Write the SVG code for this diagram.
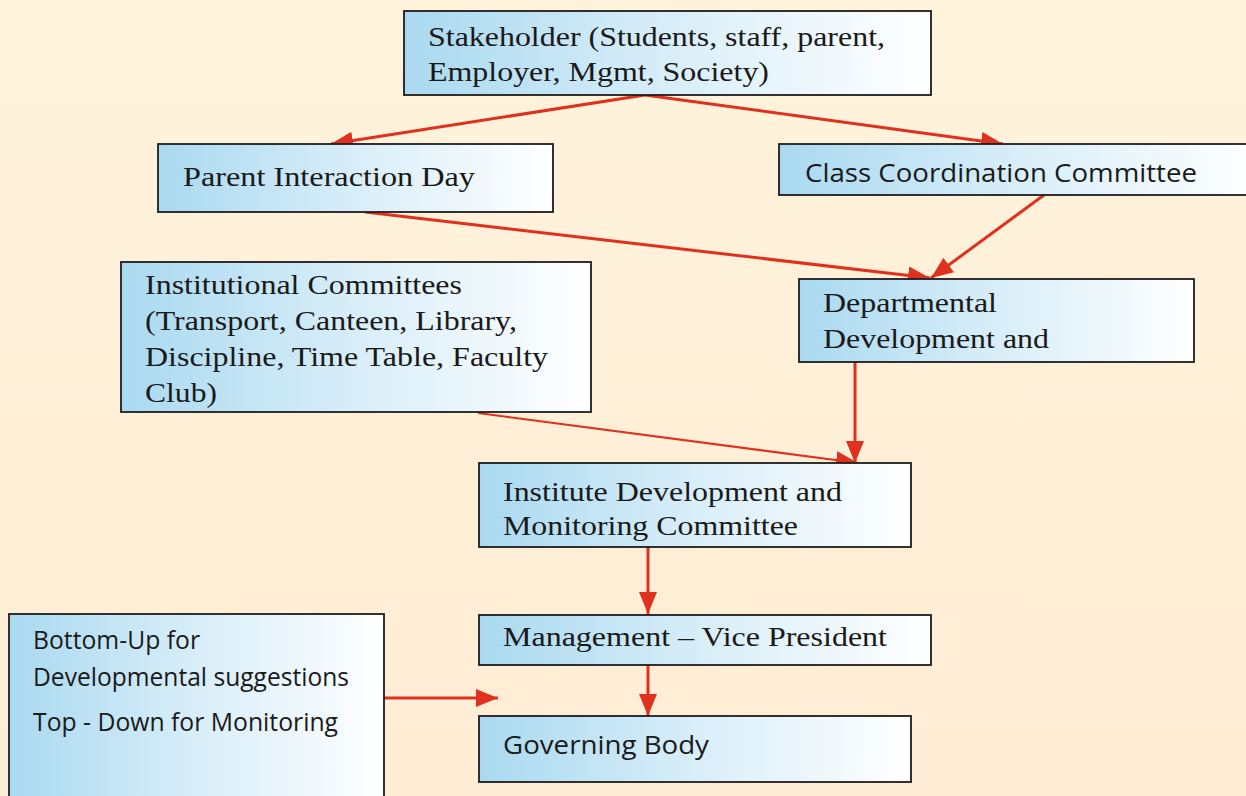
<svg xmlns="http://www.w3.org/2000/svg" width="1246" height="796" viewBox="0 0 1246 796">
  <defs>
    <linearGradient id="bg" x1="0" y1="0" x2="0" y2="1">
      <stop offset="0" stop-color="#fff3dc"/>
      <stop offset="1" stop-color="#ffecd4"/>
    </linearGradient>
    <linearGradient id="boxfill" x1="0" y1="0" x2="1" y2="0">
      <stop offset="0" stop-color="#a9d9f0"/>
      <stop offset="0.45" stop-color="#d4ecf8"/>
      <stop offset="1" stop-color="#ffffff"/>
    </linearGradient>
    <marker id="head" markerUnits="userSpaceOnUse" markerWidth="24" markerHeight="20" refX="22" refY="9" orient="auto">
      <path d="M0,0 L22,9 L0,18 z" fill="#e0301e"/>
    </marker>
    <style>
      .box { fill: url(#boxfill); stroke: #1c1c1c; stroke-width: 1.8; }
      .serif { font-family: "Liberation Serif", "Times New Roman", serif; font-size: 28px; fill: #1a1a1a; }
      .sans { font-family: "Open Sans", "Liberation Sans", sans-serif; font-size: 25px; fill: #1a1a1a; }
      .link { stroke: #e0301e; stroke-width: 3; fill: none; marker-end: url(#head); }
      .thin { stroke-width: 2; }
    </style>
  </defs>

  <rect x="0" y="0" width="1246" height="796" fill="url(#bg)"/>

  <g id="connectors">
    <line class="link" x1="645" y1="95" x2="331" y2="144"/>
    <line class="link" x1="645" y1="95" x2="1003" y2="144"/>
    <line class="link" x1="365" y1="212" x2="930" y2="278"/>
    <line class="link" x1="1044" y1="195" x2="931" y2="278"/>
    <line class="link" x1="855" y1="362" x2="855" y2="463"/>
    <line class="link thin" x1="478" y1="413" x2="858" y2="463"/>
    <line class="link" x1="648" y1="547" x2="648" y2="614"/>
    <line class="link" x1="648" y1="665" x2="648" y2="716"/>
    <line class="link" x1="384" y1="698" x2="498" y2="698"/>
  </g>

  <g id="stakeholder">
    <rect class="box" x="404" y="11" width="527" height="84"/>
    <text class="serif" x="428" y="46" textLength="457" lengthAdjust="spacingAndGlyphs">Stakeholder (Students, staff, parent,</text>
    <text class="serif" x="428" y="81" textLength="341" lengthAdjust="spacingAndGlyphs">Employer, Mgmt, Society)</text>
  </g>

  <g id="parent-interaction-day">
    <rect class="box" x="158" y="144" width="395" height="68"/>
    <text class="serif" x="183" y="186" textLength="292" lengthAdjust="spacingAndGlyphs">Parent Interaction Day</text>
  </g>

  <g id="class-coordination">
    <rect class="box" x="779" y="144" width="480" height="51"/>
    <text class="sans" x="805" y="182" textLength="392" lengthAdjust="spacingAndGlyphs">Class Coordination Committee</text>
  </g>

  <g id="institutional-committees">
    <rect class="box" x="121" y="262" width="470" height="150"/>
    <text class="serif" x="145" y="294" textLength="317" lengthAdjust="spacingAndGlyphs">Institutional Committees</text>
    <text class="serif" x="145" y="330" textLength="372" lengthAdjust="spacingAndGlyphs">(Transport, Canteen, Library,</text>
    <text class="serif" x="145" y="366" textLength="403" lengthAdjust="spacingAndGlyphs">Discipline, Time Table, Faculty</text>
    <text class="serif" x="145" y="402" textLength="72" lengthAdjust="spacingAndGlyphs">Club)</text>
  </g>

  <g id="departmental">
    <rect class="box" x="799" y="279" width="395" height="83"/>
    <text class="serif" x="823" y="312" textLength="174" lengthAdjust="spacingAndGlyphs">Departmental</text>
    <text class="serif" x="823" y="348" textLength="226" lengthAdjust="spacingAndGlyphs">Development and</text>
  </g>

  <g id="institute-development">
    <rect class="box" x="479" y="463" width="432" height="84"/>
    <text class="serif" x="503" y="501" textLength="339" lengthAdjust="spacingAndGlyphs">Institute Development and</text>
    <text class="serif" x="503" y="535" textLength="295" lengthAdjust="spacingAndGlyphs">Monitoring Committee</text>
  </g>

  <g id="management">
    <rect class="box" x="479" y="615" width="452" height="50"/>
    <text class="serif" x="503" y="646" textLength="384" lengthAdjust="spacingAndGlyphs">Management – Vice President</text>
  </g>

  <g id="governing-body">
    <rect class="box" x="479" y="716" width="432" height="66"/>
    <text class="sans" x="503" y="754" textLength="206" lengthAdjust="spacingAndGlyphs">Governing Body</text>
  </g>

  <g id="approach-note">
    <rect class="box" x="9" y="614" width="375" height="200"/>
    <text class="sans" x="33" y="649" font-size="22" textLength="167" lengthAdjust="spacingAndGlyphs">Bottom-Up for</text>
    <text class="sans" x="33" y="686" font-size="22" textLength="316" lengthAdjust="spacingAndGlyphs">Developmental suggestions</text>
    <text class="sans" x="33" y="731" font-size="22" textLength="305" lengthAdjust="spacingAndGlyphs">Top - Down for Monitoring</text>
  </g>
</svg>
